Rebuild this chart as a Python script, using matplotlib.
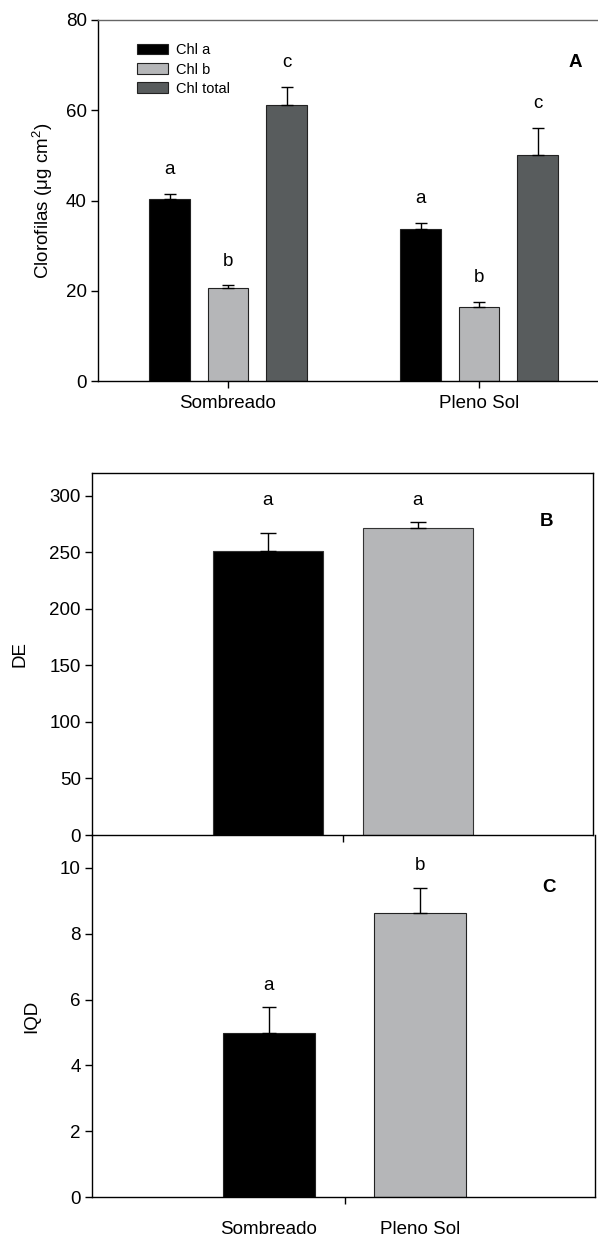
import matplotlib
matplotlib.use("Agg")
import matplotlib.pyplot as plt
from matplotlib.patches import Patch
import numpy as np

plt.rcParams['font.family'] = ['Liberation Sans', 'DejaVu Sans']
plt.rcParams['mathtext.fontset'] = 'custom'
plt.rcParams['mathtext.rm'] = 'Liberation Sans'
plt.rcParams['mathtext.it'] = 'Liberation Sans:italic'

# data
groups = ["Sombreado", "Pleno Sol"]
chl_names = ["Chl a", "Chl b", "Chl total"]
chl_mean = [[40.4, 20.5, 61.1], [33.6, 16.5, 50.1]]
chl_err = [[1.0, 0.7, 4.1], [1.5, 1.1, 6.0]]
chl_letters = [["a", "b", "c"], ["a", "b", "c"]]

de_mean = [251, 271]
de_err = [16, 6]
de_letters = ["a", "a"]

iqd_mean = [4.98, 8.64]
iqd_err = [0.79, 0.76]
iqd_letters = ["a", "b"]

black = "#000000"
light = "#b5b6b8"
dark = "#585c5d"
chl_colors = [black, light, dark]

W, H = 598, 1241
fig = plt.figure(figsize=(W / 100, H / 100), dpi=100)

def ax_at(l, t, r, b):
    return fig.add_axes([l / W, 1 - b / H, (r - l) / W, (b - t) / H])

fs = 13.5

def style(ax):
    ax.tick_params(direction='out', length=5, width=1, labelsize=fs, pad=3)
    for s in ax.spines.values():
        s.set_linewidth(1)

# ---------- panel A
axA = ax_at(98, 20, 598, 381)
style(axA)
x = np.arange(len(groups))
bw = 0.163
step = 0.233
for i in range(3):
    m = [chl_mean[g][i] for g in range(2)]
    e = [chl_err[g][i] for g in range(2)]
    xi = x + (i - 1) * step
    axA.bar(xi, m, bw, color=chl_colors[i], edgecolor='#222222', linewidth=0.8,
            label=chl_names[i], zorder=2)
    axA.errorbar(xi, m, yerr=[[0, 0], e], fmt='none', ecolor='black',
                 elinewidth=1, capsize=4, capthick=1, zorder=3)
    for g in range(2):
        axA.text(xi[g], m[g] + e[g] + 3.5, chl_letters[g][i], ha='center',
                 va='bottom', fontsize=fs)
axA.set_xlim(-0.518, 1.474)
axA.set_ylim(0, 80)
axA.set_yticks([0, 20, 40, 60, 80])
axA.set_xticks(x)
axA.set_xticklabels(groups)
axA.tick_params(axis='x', pad=5)
axA.spines['right'].set_visible(False)
axA.spines['top'].set_color('#666666')
axA.set_ylabel('Clorofilas (μg cm$^{2}$)', fontsize=fs, va='center')
axA.yaxis.set_label_coords(-0.11, 0.5)
axA.text(0.955, 0.881, "A", transform=axA.transAxes, fontsize=fs,
         fontweight='bold', ha='center', va='center')
handles = [Patch(facecolor=c, edgecolor='#222222', linewidth=0.8) for c in chl_colors]
axA.legend(handles, chl_names, loc='upper left', bbox_to_anchor=(0.078, 0.935),
           frameon=False, fontsize=10.5, handlelength=2.1, handleheight=0.7,
           handletextpad=0.55, labelspacing=0.35, borderpad=0, borderaxespad=0)

# ---------- panel C (drawn first, transparent, so B's bottom spine stays on top)
axC = ax_at(92, 835, 595, 1197)
axC.set_facecolor('none')
style(axC)
axC.bar(x, iqd_mean, 0.607, color=[black, light], edgecolor='#222222',
        linewidth=0.8, zorder=2)
axC.errorbar(x, iqd_mean, yerr=[[0, 0], iqd_err], fmt='none', ecolor='black',
             elinewidth=1, capsize=5, capthick=1, zorder=3)
for g in range(2):
    axC.text(x[g], iqd_mean[g] + iqd_err[g] + 0.4, iqd_letters[g], ha='center',
             va='bottom', fontsize=fs)
axC.set_xlim(-1.168, 2.152)
axC.set_ylim(0, 11)
axC.set_yticks(range(0, 11, 2))
axC.set_xticks([0.5])
axC.set_xticklabels([""])
axC.set_xticks(x, minor=True)
axC.set_xticklabels(groups, minor=True)
axC.tick_params(axis='x', which='minor', length=0, pad=17, labelsize=fs)
axC.spines['top'].set_visible(False)
axC.set_ylabel("IQD", fontsize=fs, va='center')
axC.yaxis.set_label_coords(-0.12, 0.5)
axC.text(0.908, 0.855, "C", transform=axC.transAxes, fontsize=fs,
         fontweight='bold', ha='center', va='center')

# ---------- panel B
axB = ax_at(92, 473, 593, 835)
axB.set_facecolor('none')
style(axB)
axB.bar(x, de_mean, 0.733, color=[black, light], edgecolor='#333333',
        linewidth=0.8, zorder=2)
axB.errorbar(x, de_mean, yerr=[[0, 0], de_err], fmt='none', ecolor='black',
             elinewidth=1, capsize=6, capthick=1, zorder=3)
for g in range(2):
    axB.text(x[g], 296, de_letters[g], ha='center', va='center', fontsize=fs)
axB.set_xlim(-1.173, 2.167)
axB.set_ylim(0, 320)
axB.set_yticks(range(0, 301, 50))
axB.set_xticks([0.5])
axB.set_xticklabels([""])
axB.set_ylabel("DE", fontsize=fs, va='center')
axB.yaxis.set_label_coords(-0.143, 0.5)
axB.text(0.907, 0.865, "B", transform=axB.transAxes, fontsize=fs,
         fontweight='bold', ha='center', va='center')

fig.savefig("out.png", dpi=100)
